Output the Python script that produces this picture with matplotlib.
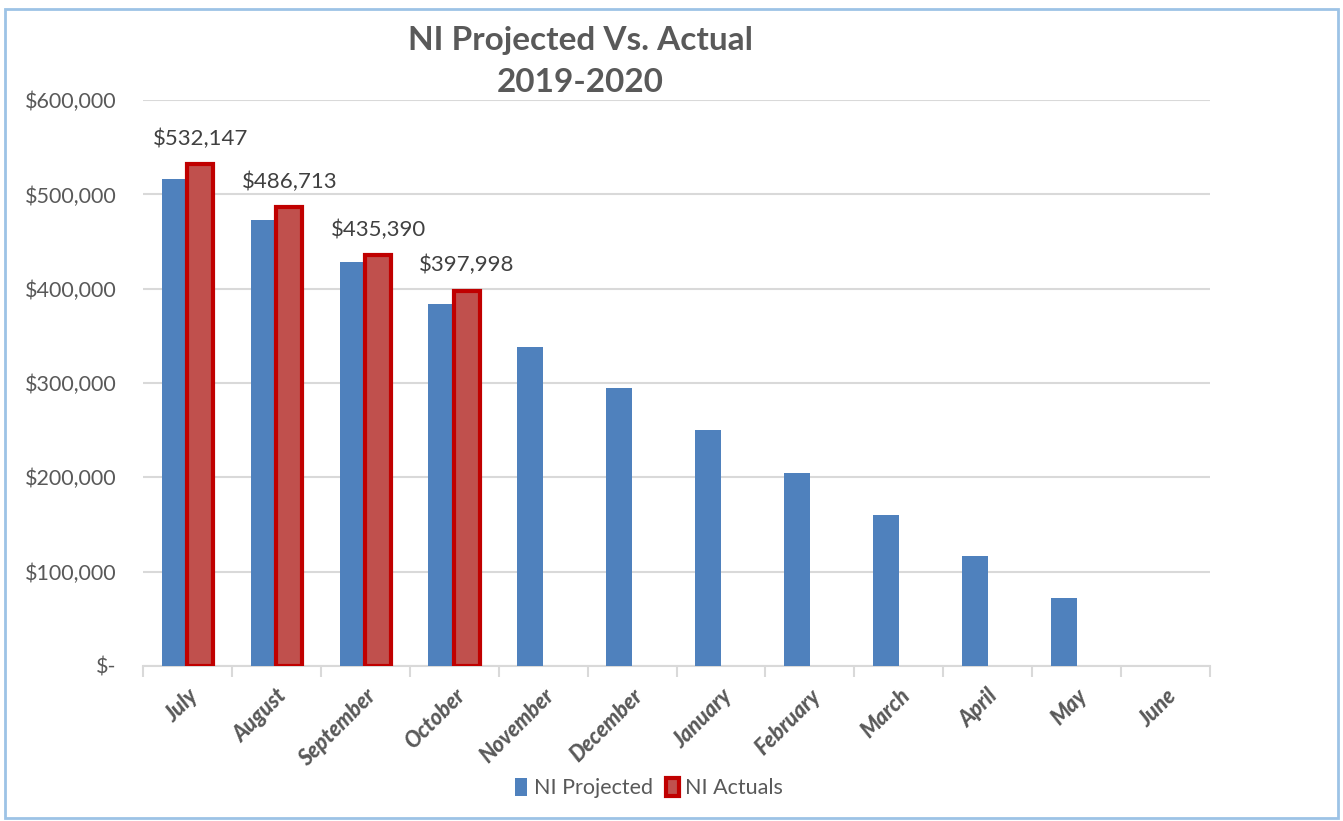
import matplotlib.pyplot as plt
from matplotlib.patches import Rectangle
import numpy as np

months = ["July", "August", "September", "October", "November", "December",
          "January", "February", "March", "April", "May", "June"]
projected = [516000, 473000, 428000, 384000, 338000, 295000,
             250000, 205000, 160000, 117000, 72000, 0]
actuals = [532147, 486713, 435390, 397998]

plt.rcParams['font.family'] = ['Lato', 'DejaVu Sans']
grey = '#595959'

fig = plt.figure(figsize=(13.43, 8.21), dpi=100)
ax = fig.add_axes([0.1065, 0.189, 0.7945, 0.689])

x = np.arange(len(months))
w = 0.29
ax.bar(x - w / 2, projected, w, color='#4f81bd', label='NI Projected', zorder=3)
xa = np.arange(len(actuals))
ax.bar(xa + w / 2, actuals, w, color='#c0504d', edgecolor='#c00000',
       linewidth=3, label='NI Actuals', zorder=3)

for xi, v in zip(xa, actuals):
    ax.annotate(f"${v:,.0f}", (xi + w / 2, v), xytext=(0, 11),
                textcoords='offset points', ha='center', va='bottom',
                fontsize=16, color='#404040')

ax.set_xlim(-0.5, len(months) - 0.5)
ax.set_ylim(0, 600000)
yt = np.arange(0, 600001, 100000)
ax.set_yticks(yt)
ax.set_yticklabels(["$-"] + [f"${v:,.0f}" for v in yt[1:]])
ax.yaxis.grid(True, color='#d9d9d9', linewidth=1.5, zorder=0)
ax.tick_params(axis='y', length=0, labelsize=15.5, labelcolor=grey, pad=19)

ax.set_xticks(x)
ax.set_xticklabels(months, rotation=45, ha='right', rotation_mode='anchor',
                   fontsize=15.5, fontweight='black', fontstyle='italic', color=grey)
ax.set_xticks(np.arange(-0.5, len(months)), minor=True)
ax.tick_params(axis='x', which='major', length=0, pad=14)
ax.tick_params(axis='x', which='minor', length=8, color='#d9d9d9', width=1.5)

for s in ['top', 'right', 'left']:
    ax.spines[s].set_visible(False)
ax.spines['bottom'].set_color('#d9d9d9')
ax.spines['bottom'].set_linewidth(1.5)

# title as two lines placed separately
fig.text(0.432, 0.951, "NI Projected Vs. Actual", ha='center', va='center',
         fontsize=24, fontweight='bold', color=grey)
fig.text(0.432, 0.899, "2019-2020", ha='center', va='center',
         fontsize=24, fontweight='bold', color=grey)

ax.legend(loc='lower center', bbox_to_anchor=(0.474, -0.268), ncol=2, frameon=False,
          fontsize=15.5, labelcolor=grey, handlelength=0.6, handleheight=0.9,
          handletextpad=0.3, columnspacing=0.6)

fig.patches.append(Rectangle((0.004, 0.004), 0.992, 0.985, transform=fig.transFigure,
                             fill=False, edgecolor='#9dc3e6', linewidth=2))

fig.savefig('out.png', dpi=100)
